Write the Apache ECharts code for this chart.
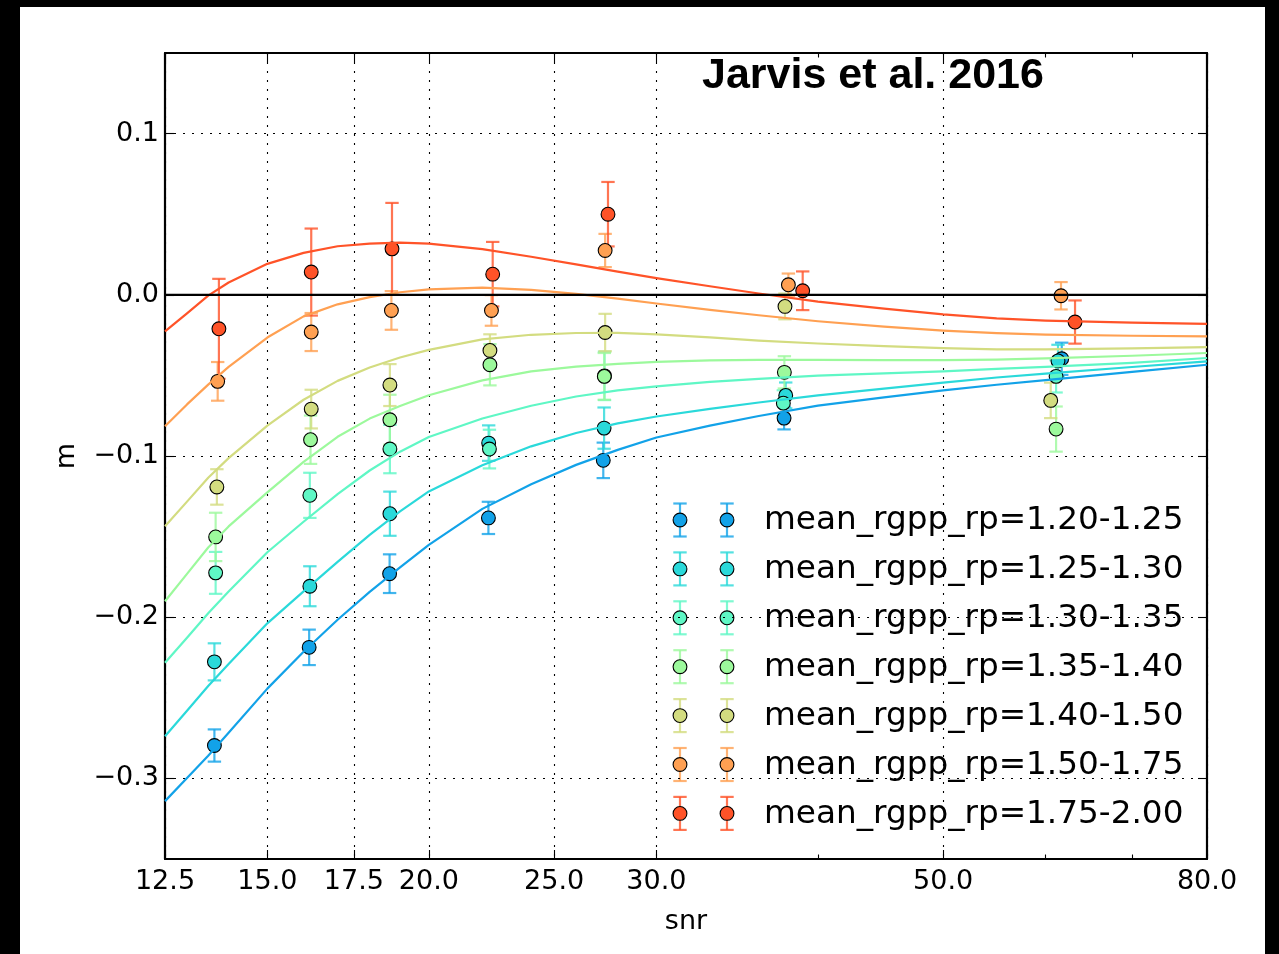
<!DOCTYPE html>
<html>
<head>
<meta charset="utf-8">
<script src="https://cdn.jsdelivr.net/npm/echarts@6/dist/echarts.min.js"></script>
<style>
  html, body { margin: 0; padding: 0; background: #000; width: 1279px; height: 954px; overflow: hidden; }
  #chart { position: absolute; left: 20px; top: 7px; width: 1245px; height: 947px; background: #fff; }
</style>
</head>
<body>
<div id="chart"></div>
<script>
// Multiplicative shear bias m as a function of snr, split into mean_rgpp_rp bins.
const binLabels = ['1.20-1.25', '1.25-1.30', '1.30-1.35', '1.35-1.40', '1.40-1.50', '1.50-1.75', '1.75-2.00'];
const binColors = ['#12a2e8', '#2ad9da', '#5ff7c5', '#9cf99c', '#d3dc80', '#ffa052', '#ff5328'];

// Measured points: mean snr, m and its 1-sigma error for each bin
const snr_120_125 = [13.65, 16.16, 18.65, 22.24, 27.29, 37.66, 61.76];
const m_120_125   = [-0.2796, -0.2187, -0.1730, -0.1384, -0.1027, -0.0765, -0.0397];
const err_120_125 = [0.010, 0.011, 0.012, 0.010, 0.011, 0.007, 0.010];

const snr_125_130 = [13.65, 16.18, 18.66, 22.25, 27.33, 37.77, 61.35];
const m_125_130   = [-0.2277, -0.1808, -0.1358, -0.0920, -0.0827, -0.0624, -0.0410];
const err_125_130 = [0.0115, 0.0124, 0.0137, 0.011, 0.0128, 0.008, 0.010];

const snr_130_135 = [13.68, 16.18, 18.66, 22.28, 27.35, 37.61, 61.14];
const m_130_135   = [-0.1725, -0.1244, -0.0957, -0.0957, -0.0503, -0.0672, -0.0506];
const err_130_135 = [0.013, 0.014, 0.015, 0.012, 0.015, 0.008, 0.010];

const snr_135_140 = [13.68, 16.20, 18.66, 22.30, 27.34, 37.68, 61.14];
const m_135_140   = [-0.1502, -0.0899, -0.0775, -0.0434, -0.0506, -0.0481, -0.0833];
const err_135_140 = [0.015, 0.015, 0.0155, 0.0128, 0.0145, 0.010, 0.014];

const snr_140_150 = [13.71, 16.22, 18.66, 22.30, 27.38, 37.72, 60.56];
const m_140_150   = [-0.1192, -0.0709, -0.0560, -0.0345, -0.0234, -0.0072, -0.0655];
const err_140_150 = [0.011, 0.012, 0.013, 0.010, 0.0116, 0.008, 0.011];

const snr_150_175 = [13.73, 16.22, 18.71, 22.36, 27.38, 37.95, 61.68];
const m_150_175   = [-0.0537, -0.0231, -0.0097, -0.0097, 0.0275, 0.0062, -0.0006];
const err_150_175 = [0.012, 0.0118, 0.012, 0.0095, 0.0103, 0.007, 0.0085];

const snr_175_200 = [13.76, 16.22, 18.73, 22.41, 27.52, 38.93, 63.24];
const m_175_200   = [-0.0211, 0.0141, 0.0285, 0.0128, 0.0500, 0.0025, -0.0169];
const err_175_200 = [0.031, 0.027, 0.0285, 0.020, 0.020, 0.012, 0.0134];

// Fitted curves, sampled on a common snr grid
const fitSnr = [12.5, 13, 13.5, 14, 15, 16, 17, 18, 19, 20, 22, 24, 26, 28, 30, 33, 36, 40, 45, 50, 55, 60, 70, 80];
const fit_120_125 = [-0.3141, -0.2997, -0.2859, -0.2717, -0.2443, -0.2214, -0.2016, -0.1843, -0.1691, -0.1551, -0.1328, -0.1175, -0.1055, -0.0962, -0.0885, -0.0812, -0.0752, -0.0688, -0.0636, -0.0593, -0.0558, -0.0529, -0.0478, -0.0434];
const fit_125_130 = [-0.2738, -0.2580, -0.2427, -0.2291, -0.2038, -0.1840, -0.1657, -0.1489, -0.1343, -0.1220, -0.1058, -0.0940, -0.0857, -0.0798, -0.0755, -0.0708, -0.0668, -0.0624, -0.0582, -0.0545, -0.0513, -0.0489, -0.0448, -0.0413];
const fit_130_135 = [-0.2283, -0.2127, -0.1976, -0.1841, -0.1597, -0.1408, -0.1237, -0.1090, -0.0973, -0.0882, -0.0767, -0.0688, -0.0631, -0.0593, -0.0568, -0.0540, -0.0522, -0.0502, -0.0488, -0.0475, -0.0460, -0.0447, -0.0422, -0.0392];
const fit_135_140 = [-0.1901, -0.1731, -0.1568, -0.1437, -0.1226, -0.1036, -0.0881, -0.0768, -0.0690, -0.0623, -0.0531, -0.0475, -0.0445, -0.0429, -0.0416, -0.0407, -0.0404, -0.0404, -0.0405, -0.0405, -0.0402, -0.0394, -0.0378, -0.0361];
const fit_140_150 = [-0.1436, -0.1283, -0.1135, -0.1013, -0.0811, -0.0651, -0.0534, -0.0451, -0.0389, -0.0342, -0.0277, -0.0248, -0.0237, -0.0236, -0.0245, -0.0264, -0.0284, -0.0302, -0.0318, -0.0331, -0.0338, -0.0338, -0.0332, -0.0324];
const fit_150_175 = [-0.0816, -0.0680, -0.0557, -0.0447, -0.0265, -0.0134, -0.0059, -0.0014, 0.0016, 0.0034, 0.0044, 0.0031, 0.0006, -0.0024, -0.0054, -0.0094, -0.0127, -0.0164, -0.0197, -0.0222, -0.0238, -0.0247, -0.0254, -0.0258];
const fit_175_200 = [-0.0227, -0.0115, -0.0005, 0.0076, 0.0192, 0.0260, 0.0301, 0.0318, 0.0324, 0.0317, 0.0283, 0.0236, 0.0189, 0.0144, 0.0103, 0.0053, 0.0008, -0.0042, -0.0086, -0.0122, -0.0146, -0.0160, -0.0173, -0.0180];

// Axes
const xRange = [12.5, 80];
const yRange = [-0.35, 0.15];
const xTicks = [12.5, 15, 17.5, 20, 25, 30, 50, 80];
const xMinorTicks = [40, 60, 70];
const yTicks = [-0.3, -0.2, -0.1, 0.0, 0.1];

const groups = [
  { snr: snr_120_125, m: m_120_125, err: err_120_125, fit: fit_120_125 },
  { snr: snr_125_130, m: m_125_130, err: err_125_130, fit: fit_125_130 },
  { snr: snr_130_135, m: m_130_135, err: err_130_135, fit: fit_130_135 },
  { snr: snr_135_140, m: m_135_140, err: err_135_140, fit: fit_135_140 },
  { snr: snr_140_150, m: m_140_150, err: err_140_150, fit: fit_140_150 },
  { snr: snr_150_175, m: m_150_175, err: err_150_175, fit: fit_150_175 },
  { snr: snr_175_200, m: m_175_200, err: err_175_200, fit: fit_175_200 }
];

const LW = 2.2;          // 1pt line width
const CAP = 6.7;         // error bar cap half width
const MARKER = 13.8;     // marker diameter
const TICK_FONT = 'DejaVu Sans';
const TICK_SIZE = 27;

function errorBarSeries(g, color, name) {
  return {
    type: 'custom',
    name: name,
    data: g.snr.map((s, i) => [s, g.m[i], g.err[i]]),
    encode: { x: 0, y: 1 },
    renderItem: function (params, api) {
      const x = api.value(0), y = api.value(1), e = api.value(2);
      const lo = api.coord([x, y - e]);
      const hi = api.coord([x, y + e]);
      const style = { stroke: color, lineWidth: LW, opacity: 0.8 };
      return {
        type: 'group',
        children: [
          { type: 'line', shape: { x1: lo[0], y1: lo[1], x2: hi[0], y2: hi[1] }, style: style },
          { type: 'line', shape: { x1: lo[0] - CAP, y1: lo[1], x2: lo[0] + CAP, y2: lo[1] }, style: style },
          { type: 'line', shape: { x1: hi[0] - CAP, y1: hi[1], x2: hi[0] + CAP, y2: hi[1] }, style: style }
        ]
      };
    },
    silent: true
  };
}

const series = [];
groups.forEach((g, i) => {
  const color = binColors[i];
  const name = 'mean_rgpp_rp=' + binLabels[i];
  series.push(errorBarSeries(g, color, name));
  series.push({
    type: 'scatter',
    name: name,
    data: g.snr.map((s, k) => [s, g.m[k]]),
    symbol: 'circle',
    symbolSize: MARKER,
    itemStyle: { color: color, borderColor: '#000', borderWidth: 1.1, opacity: 1 },
    silent: true
  });
  series.push({
    type: 'line',
    name: name + ' fit',
    data: fitSnr.map((s, k) => [s, g.fit[k]]),
    showSymbol: false,
    smooth: false,
    lineStyle: { color: color, width: LW, join: 'round' },
    silent: true
  });
});

// Horizontal reference line at m = 0
series.push({
  type: 'line',
  name: 'zero',
  data: [[xRange[0], 0], [xRange[1], 0]],
  showSymbol: false,
  lineStyle: { color: '#000', width: LW },
  z: 10,
  silent: true
});

// Legend: two error-bar markers per entry followed by the label
const legendChildren = [];
const legendTop = 513, legendStep = 48.9, legendX1 = 660, legendX2 = 707, legendTextX = 744;
binLabels.forEach((lab, i) => {
  const cy = legendTop + i * legendStep;
  const color = binColors[i];
  [legendX1, legendX2].forEach(cx => {
    const st = { stroke: color, lineWidth: LW, opacity: 0.8 };
    legendChildren.push({ type: 'line', shape: { x1: cx, y1: cy - 16.5, x2: cx, y2: cy + 16.5 }, style: st });
    legendChildren.push({ type: 'line', shape: { x1: cx - CAP, y1: cy - 16.5, x2: cx + CAP, y2: cy - 16.5 }, style: st });
    legendChildren.push({ type: 'line', shape: { x1: cx - CAP, y1: cy + 16.5, x2: cx + CAP, y2: cy + 16.5 }, style: st });
    legendChildren.push({ type: 'circle', shape: { cx: cx, cy: cy, r: MARKER / 2 }, style: { fill: color, stroke: '#000', lineWidth: 1.1 } });
  });
  legendChildren.push({
    type: 'text',
    x: legendTextX, y: cy + 1,
    style: { text: 'mean_rgpp_rp=' + lab, fill: '#000', font: '32.7px "DejaVu Sans"', verticalAlign: 'middle', align: 'left' }
  });
});

const majorX = (position, showLabel, extra) => Object.assign({
  type: 'log', min: xRange[0], max: xRange[1], position: position, gridIndex: 0,
  axisLine: { show: true, onZero: false, lineStyle: { color: '#000', width: LW } },
  axisTick: { show: true, inside: true, length: 9, customValues: xTicks, lineStyle: { color: '#000', width: 1.1 } },
  axisLabel: {
    show: showLabel, customValues: xTicks, showMinLabel: true, showMaxLabel: true,
    formatter: v => Number(v).toFixed(1), color: '#000', fontFamily: TICK_FONT, fontSize: TICK_SIZE, margin: 9
  },
  splitLine: { show: showLabel, lineStyle: { color: '#000', width: 1.1, type: [2, 7] } },
  minorTick: { show: false }, minorSplitLine: { show: false }
}, extra || {});

const minorX = position => ({
  type: 'log', min: xRange[0], max: xRange[1], position: position, gridIndex: 0,
  axisLine: { show: false, onZero: false },
  axisTick: { show: true, inside: true, length: 4.5, customValues: xMinorTicks, lineStyle: { color: '#000', width: 1.1 } },
  axisLabel: { show: false },
  splitLine: { show: false }
});

const yAxisDef = (position, showLabel, extra) => Object.assign({
  type: 'value', min: yRange[0], max: yRange[1], position: position, gridIndex: 0,
  axisLine: { show: true, onZero: false, lineStyle: { color: '#000', width: LW } },
  axisTick: { show: true, inside: true, length: 9, customValues: yTicks, lineStyle: { color: '#000', width: 1.1 } },
  axisLabel: {
    show: showLabel, customValues: yTicks, showMinLabel: true, showMaxLabel: true,
    formatter: v => (v < 0 ? '\u2212' : '') + Math.abs(v).toFixed(1),
    color: '#000', fontFamily: TICK_FONT, fontSize: TICK_SIZE, margin: 6
  },
  splitLine: { show: showLabel, lineStyle: { color: '#000', width: 1.1, type: [2, 7] } }
}, extra || {});

const option = {
  animation: false,
  backgroundColor: '#fff',
  title: {
    text: 'Jarvis et al. 2016',
    left: 682, top: 48, padding: 0,
    textStyle: { fontFamily: 'Liberation Sans', fontWeight: 'bold', fontSize: 43, color: '#000' }
  },
  grid: { left: 145, top: 46, right: 58, bottom: 95, containLabel: false, outerBoundsMode: 'none' },
  xAxis: [
    majorX('bottom', true, {
      name: 'snr', nameLocation: 'middle', nameGap: 49,
      nameTextStyle: { fontFamily: TICK_FONT, fontSize: TICK_SIZE, color: '#000' }
    }),
    minorX('bottom'),
    majorX('top', false),
    minorX('top')
  ],
  yAxis: [
    yAxisDef('left', true, {
      name: 'm', nameLocation: 'middle', nameGap: 85, nameRotate: 90,
      nameTextStyle: { fontFamily: TICK_FONT, fontSize: TICK_SIZE, color: '#000' }
    }),
    yAxisDef('right', false)
  ],
  graphic: { elements: [{ type: 'group', children: legendChildren, z: 100 }] },
  series: series
};

const chart = echarts.init(document.getElementById('chart'), null, { renderer: 'canvas' });
chart.setOption(option);
</script>
</body>
</html>
